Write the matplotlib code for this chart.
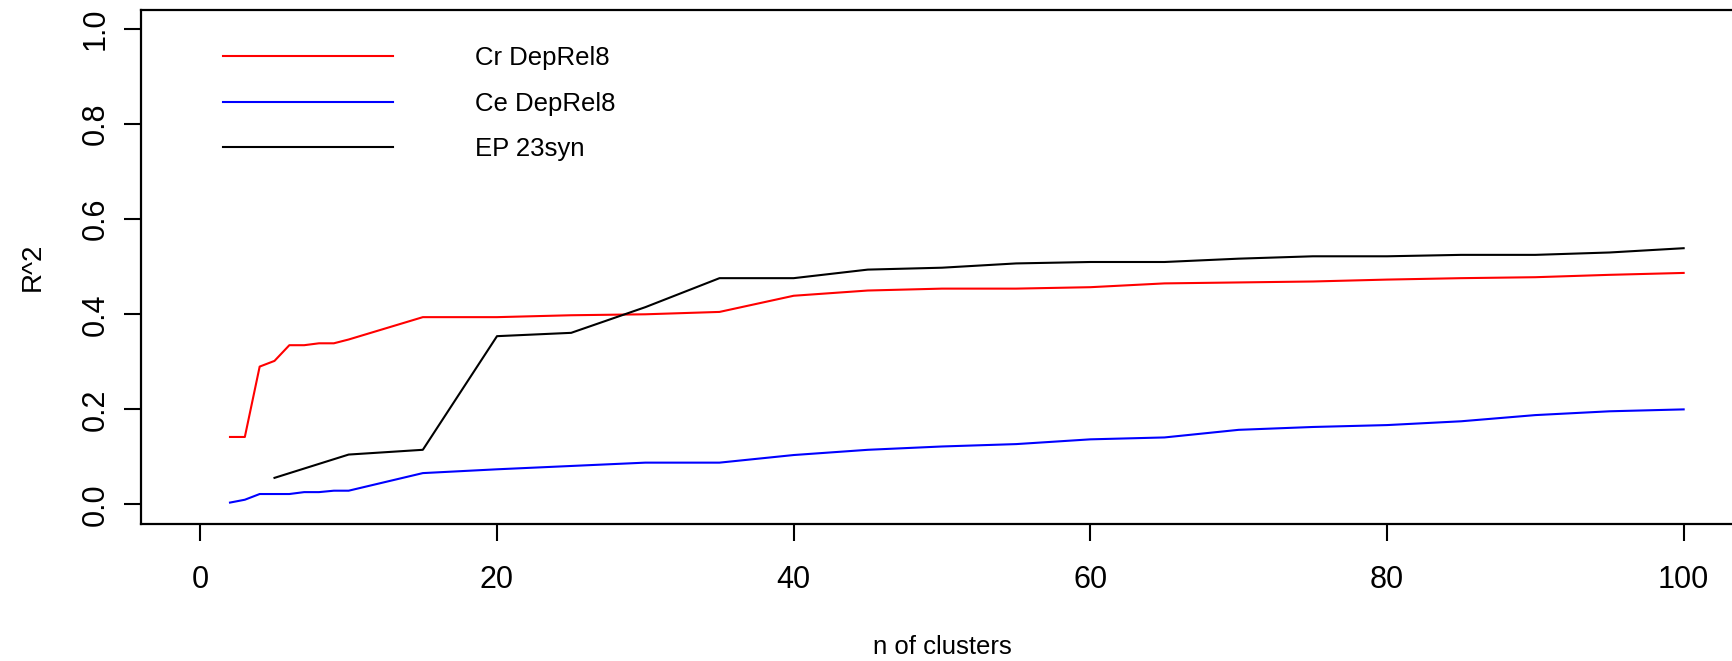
import numpy as np
import matplotlib
matplotlib.use("Agg")
import matplotlib.pyplot as plt

plt.rcParams['font.family'] = ['Liberation Sans', 'DejaVu Sans']

# n of clusters
k_dep = [2, 3, 4, 5, 6, 7, 8, 9, 10, 15, 20, 25, 30, 35, 40, 45, 50,
         55, 60, 65, 70, 75, 80, 85, 90, 95, 100]
k_ep = [5, 10, 15, 20, 25, 30, 35, 40, 45, 50, 55, 60, 65, 70, 75,
        80, 85, 90, 95, 100]

cr_deprel8 = [0.142, 0.142, 0.290, 0.302, 0.335, 0.335, 0.339, 0.339, 0.347,
              0.394, 0.394, 0.398, 0.400, 0.405, 0.439, 0.450, 0.454, 0.454,
              0.457, 0.465, 0.467, 0.469, 0.473, 0.476, 0.478, 0.483, 0.487]
ce_deprel8 = [0.004, 0.010, 0.022, 0.022, 0.022, 0.026, 0.026, 0.029, 0.029,
              0.066, 0.074, 0.081, 0.088, 0.088, 0.104, 0.115, 0.122, 0.127,
              0.137, 0.141, 0.157, 0.163, 0.167, 0.175, 0.188, 0.196, 0.200]
ep_23syn = [0.056, 0.105, 0.115, 0.354, 0.361, 0.415, 0.476, 0.476, 0.494,
            0.498, 0.507, 0.510, 0.510, 0.517, 0.522, 0.522, 0.525, 0.525,
            0.530, 0.539]

labels = ["Cr DepRel8", "Ce DepRel8", "EP 23syn"]

W, H = 1733, 661
fig = plt.figure(figsize=(W/100, H/100), dpi=100)
# box runs a bit past the right edge, like the original
left, right, top, bottom = 141, 1743, 10, 523.5
ax = fig.add_axes([left/W, (H-bottom)/H, (right-left)/W, (bottom-top)/H])

lw = 1.5
ax.plot(k_dep, cr_deprel8, color='red', lw=lw, label=labels[0])
ax.plot(k_dep, ce_deprel8, color='blue', lw=lw, label=labels[1])
ax.plot(k_ep, ep_23syn, color='black', lw=lw, label=labels[2])

ax.set_xlim(-4, 104)
ax.set_ylim(-0.04, 1.04)
ax.set_xticks([0, 20, 40, 60, 80, 100])
ax.set_yticks([0.0, 0.2, 0.4, 0.6, 0.8, 1.0])
ax.set_yticklabels(["0.0", "0.2", "0.4", "0.6", "0.8", "1.0"], rotation=90, va='center')

for s in ax.spines.values():
    s.set_linewidth(1.6)
ax.tick_params(length=12, width=1.5, labelsize=22)
ax.tick_params(axis='x', pad=18)
ax.tick_params(axis='y', pad=10)

ax.set_xlabel("n of clusters", fontsize=18.5, labelpad=29)
ax.set_ylabel("R^2", fontsize=20, labelpad=25)

ax.legend(loc='upper left', bbox_to_anchor=(0.0512, 0.929), frameon=False,
          fontsize=18.5, handlelength=6.6, handletextpad=3.2,
          labelspacing=0.82, borderpad=0, borderaxespad=0)

fig.savefig("out.png", dpi=100)
